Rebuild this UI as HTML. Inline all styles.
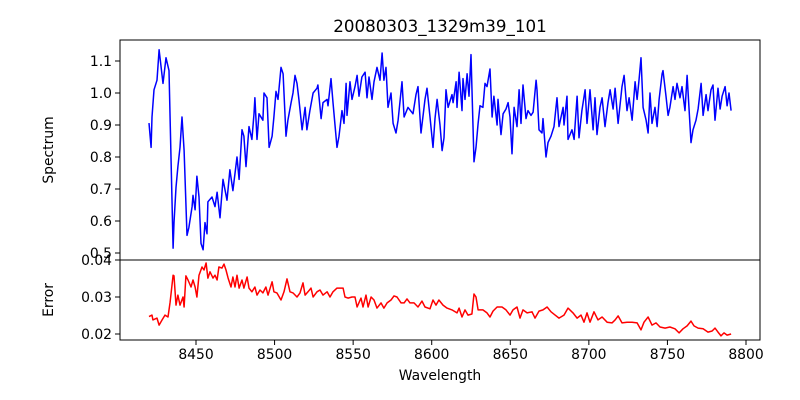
<!DOCTYPE html>
<html><head><meta charset="utf-8"><style>
body{margin:0;background:#fff;}
svg{display:block;font-family:"DejaVu Sans","Liberation Sans",sans-serif;}
</style></head><body>
<svg id="chart" width="800" height="400" viewBox="0 0 800 400" xmlns="http://www.w3.org/2000/svg">
<rect width="800" height="400" fill="#fff"/>
<text x="440" y="32" font-size="16.7" text-anchor="middle">20080303_1329m39_101</text>
<text transform="translate(53,150) rotate(-90)" font-size="13.9" text-anchor="middle">Spectrum</text>
<text transform="translate(53,300) rotate(-90)" font-size="13.9" text-anchor="middle">Error</text>
<text x="440" y="380" font-size="13.9" text-anchor="middle">Wavelength</text>
<g id="marks"></g>
<g id="axes"></g>
</svg>
<script>
const xTicks = [8450, 8500, 8550, 8600, 8650, 8700, 8750, 8800];
const specTicks = [0.5, 0.6, 0.7, 0.8, 0.9, 1.0, 1.1];
const specTickLabels = ["0.5", "0.6", "0.7", "0.8", "0.9", "1.0", "1.1"];
const errTicks = [0.02, 0.03, 0.04];
const errTickLabels = ["0.02", "0.03", "0.04"];

const specWave = [8420.1,8421.4,8422.0,8423.3,8425.2,8426.5,8429.0,8430.9,8432.8,8435.4,8436.0,8437.3,8438.5,8439.8,8441.1,8442.4,8444.3,8445.5,8447.5,8448.1,8449.4,8450.6,8451.9,8453.2,8454.5,8455.7,8457.0,8457.6,8460.2,8462.1,8463.4,8465.3,8467.2,8469.7,8471.6,8473.5,8476.1,8477.4,8479.3,8480.5,8481.8,8483.7,8485.6,8486.9,8487.5,8488.8,8490.1,8492.6,8493.3,8495.2,8496.5,8498.4,8499.6,8500.9,8502.2,8504.1,8505.4,8507.3,8508.5,8510.5,8511.7,8513.0,8514.3,8515.5,8517.5,8519.4,8520.6,8522.5,8524.5,8527.0,8527.6,8529.6,8530.8,8533.4,8534.0,8535.9,8537.2,8539.7,8541.0,8542.9,8544.2,8545.5,8546.1,8548.0,8549.3,8551.2,8552.5,8553.7,8555.6,8557.6,8558.8,8560.1,8562.0,8563.3,8565.2,8567.1,8568.4,8569.6,8570.9,8572.2,8574.1,8575.4,8577.3,8578.6,8581.1,8582.4,8584.9,8588.1,8590.0,8591.3,8593.2,8595.7,8597.0,8598.9,8600.8,8602.1,8603.4,8605.3,8606.6,8607.8,8609.1,8610.4,8612.9,8613.6,8615.5,8616.1,8617.4,8619.3,8619.9,8621.2,8622.5,8623.7,8625.0,8626.9,8628.2,8629.5,8630.7,8632.6,8633.9,8635.2,8637.1,8638.4,8639.6,8641.6,8642.2,8644.1,8645.4,8647.3,8648.6,8649.8,8651.1,8652.4,8654.3,8655.6,8656.8,8658.1,8660.0,8661.3,8663.2,8664.5,8666.4,8667.0,8668.3,8670.2,8670.8,8672.7,8674.0,8675.9,8677.8,8679.7,8681.0,8683.6,8684.2,8686.1,8686.7,8689.3,8690.6,8692.5,8693.7,8695.6,8697.6,8698.8,8700.7,8702.7,8703.9,8705.2,8707.1,8708.4,8710.3,8712.2,8713.5,8715.4,8716.7,8718.6,8721.1,8722.4,8724.3,8725.6,8727.5,8729.4,8730.7,8731.9,8733.2,8734.5,8736.4,8737.7,8738.9,8740.2,8742.1,8743.4,8744.7,8746.6,8747.2,8749.1,8750.4,8751.6,8753.6,8754.8,8756.1,8758.0,8759.3,8761.2,8762.5,8765.0,8766.3,8768.2,8769.5,8771.4,8772.7,8774.6,8775.8,8777.7,8779.0,8780.3,8782.2,8783.5,8784.8,8786.7,8788.0,8789.2,8790.5];
const specFlux = [0.906,0.83,0.925,1.01,1.04,1.135,1.03,1.11,1.07,0.515,0.595,0.705,0.77,0.83,0.925,0.82,0.555,0.58,0.645,0.68,0.635,0.74,0.675,0.53,0.51,0.595,0.56,0.66,0.675,0.645,0.69,0.61,0.73,0.665,0.76,0.695,0.80,0.73,0.885,0.865,0.77,0.895,0.855,0.935,0.985,0.855,0.935,0.915,1.00,0.985,0.83,0.865,0.925,1.005,0.98,1.08,1.06,0.865,0.915,0.97,1.00,1.055,1.03,0.98,0.885,0.955,0.885,0.945,1.00,1.015,1.025,0.92,0.97,0.98,0.96,1.045,0.97,0.83,0.865,0.945,0.905,1.03,0.93,1.035,0.98,1.02,1.055,0.99,1.05,1.065,0.985,1.05,0.98,1.035,1.08,1.04,1.125,1.04,1.08,0.955,1.00,0.905,0.875,0.915,1.035,0.925,0.955,0.935,0.995,1.02,0.875,0.98,1.015,0.925,0.83,0.92,0.98,0.90,0.82,0.86,1.01,0.955,0.995,0.97,1.035,0.955,1.065,0.945,1.045,0.98,1.06,0.99,1.12,0.785,0.83,0.905,0.96,0.955,1.03,1.02,1.075,0.925,0.99,0.90,0.98,0.87,0.935,0.95,0.97,0.925,0.81,0.955,0.895,1.01,0.905,1.025,0.92,0.945,0.93,0.94,1.04,1.01,0.885,0.875,0.92,0.80,0.845,0.865,0.895,0.985,0.895,0.955,0.90,0.99,0.855,0.885,0.855,0.99,0.86,0.945,1.01,0.905,1.01,0.885,0.985,0.87,0.955,0.985,0.895,0.97,1.01,0.95,1.015,0.905,1.02,1.055,0.945,0.985,0.915,1.035,0.98,1.04,1.11,0.955,0.915,0.875,1.00,0.905,0.955,0.895,0.98,1.06,1.07,0.99,0.93,0.955,1.02,0.98,1.03,0.985,1.02,0.945,1.055,0.845,0.885,0.915,0.95,1.03,0.93,0.995,0.945,1.01,1.025,0.915,1.015,0.95,0.99,1.02,0.96,1.00,0.945];

const errWave = [8420.1,8422.0,8422.6,8425.2,8426.5,8428.4,8430.3,8432.2,8433.5,8435.4,8436.0,8437.3,8438.5,8439.8,8441.7,8442.4,8443.6,8444.9,8446.8,8448.1,8449.4,8450.6,8451.9,8453.8,8455.1,8456.4,8457.6,8458.9,8460.8,8462.1,8463.4,8464.6,8466.5,8467.8,8469.1,8470.4,8472.3,8473.5,8474.8,8476.1,8477.4,8479.3,8480.5,8482.5,8483.7,8485.6,8487.5,8488.8,8490.7,8492.6,8494.5,8495.8,8498.4,8499.6,8501.5,8504.1,8506.0,8507.9,8509.8,8511.7,8514.3,8516.2,8518.1,8519.4,8521.3,8523.2,8524.5,8527.0,8528.9,8530.8,8533.4,8535.3,8537.2,8539.7,8541.6,8543.6,8544.8,8546.7,8549.3,8551.2,8552.5,8555.0,8556.3,8558.2,8559.5,8561.4,8563.3,8565.2,8567.7,8569.6,8571.6,8574.1,8576.0,8577.9,8580.5,8582.4,8584.3,8586.2,8588.7,8591.3,8593.8,8595.7,8598.9,8600.8,8602.7,8604.6,8607.2,8609.7,8612.9,8616.1,8617.4,8619.3,8621.2,8623.1,8625.6,8626.9,8628.2,8629.5,8632.6,8635.2,8637.1,8639.0,8641.6,8644.7,8647.3,8649.8,8651.7,8654.3,8656.2,8658.1,8660.7,8663.8,8665.7,8668.3,8670.8,8673.4,8675.9,8678.5,8681.0,8684.2,8686.7,8689.9,8692.5,8695.0,8696.9,8698.8,8700.7,8703.3,8705.8,8708.4,8711.6,8714.7,8716.7,8718.6,8721.1,8724.3,8727.5,8730.7,8733.2,8735.1,8737.7,8740.2,8742.7,8745.3,8748.5,8751.6,8754.8,8757.4,8759.9,8762.5,8765.0,8766.9,8769.5,8772.7,8775.8,8778.4,8780.3,8782.2,8784.1,8786.0,8788.0,8790.5];
const errVals = [0.0247,0.0251,0.0238,0.0243,0.0224,0.0238,0.0251,0.0246,0.0286,0.0359,0.0357,0.0278,0.0305,0.0278,0.0300,0.0273,0.0357,0.0346,0.0327,0.0346,0.0327,0.0300,0.0359,0.0381,0.0373,0.0392,0.0351,0.0368,0.0351,0.0359,0.0346,0.0381,0.0378,0.0389,0.0373,0.0351,0.0327,0.0354,0.0327,0.0359,0.0324,0.0346,0.0324,0.0354,0.0324,0.0314,0.0327,0.0305,0.0319,0.0311,0.0327,0.0305,0.0341,0.0314,0.0311,0.0292,0.0314,0.0349,0.0314,0.0311,0.0300,0.0311,0.0338,0.0305,0.0314,0.0324,0.0300,0.0314,0.0319,0.0305,0.0314,0.0300,0.0314,0.0324,0.0324,0.0324,0.0300,0.0297,0.0300,0.0300,0.0273,0.0297,0.0273,0.0305,0.0273,0.0300,0.0292,0.0270,0.0284,0.0270,0.0284,0.0292,0.0303,0.0300,0.0284,0.0284,0.0295,0.0284,0.0284,0.0273,0.0289,0.0273,0.0268,0.0292,0.0278,0.0292,0.0278,0.0270,0.0265,0.0257,0.0270,0.0246,0.0265,0.0251,0.0254,0.0308,0.0300,0.0265,0.0265,0.0257,0.0246,0.0262,0.0273,0.0273,0.0265,0.0251,0.0265,0.0273,0.0243,0.0265,0.0257,0.0260,0.0243,0.0262,0.0265,0.0273,0.0260,0.0251,0.0243,0.0251,0.0270,0.0257,0.0243,0.0251,0.0232,0.0257,0.0232,0.0260,0.0238,0.0246,0.0232,0.0230,0.0238,0.0249,0.0230,0.0232,0.0232,0.0230,0.0211,0.0232,0.0246,0.0224,0.0230,0.0219,0.0216,0.0219,0.0214,0.0203,0.0214,0.0222,0.0235,0.0222,0.0216,0.0214,0.0205,0.0208,0.0216,0.0205,0.0195,0.0203,0.0197,0.0200];

const L = 120, R = 760;
const xScale = w => 196 + (w - 8450) * (550 / 350);
const ySpec = v => 61 + (1.1 - v) * 320;
const yErr = v => 297 + (0.03 - v) * 3700;
const NS = "http://www.w3.org/2000/svg";
const marks = document.getElementById('marks');
const axes = document.getElementById('axes');
function mk(tag, parent){ const e = document.createElementNS(NS, tag); parent.appendChild(e); return e; }

const sp = mk('polyline', marks);


sp.setAttribute('points', specWave.map((w,i)=>xScale(w).toFixed(1)+','+ySpec(specFlux[i]).toFixed(1)).join(' '));
sp.setAttribute('fill','none'); sp.setAttribute('stroke','#0000ff'); sp.setAttribute('stroke-width','1.5'); sp.setAttribute('stroke-linejoin','round');

const er = mk('polyline', marks);


er.setAttribute('points', errWave.map((w,i)=>xScale(w).toFixed(1)+','+yErr(errVals[i]).toFixed(1)).join(' '));
er.setAttribute('fill','none'); er.setAttribute('stroke','#ff0000'); er.setAttribute('stroke-width','1.5'); er.setAttribute('stroke-linejoin','round');

const f1 = mk('rect', axes);


f1.setAttribute('x', L); f1.setAttribute('y', 40); f1.setAttribute('width', R-L); f1.setAttribute('height', 220);
f1.setAttribute('fill','none'); f1.setAttribute('stroke','#000'); f1.setAttribute('stroke-width','1');
const f2 = mk('rect', axes);


f2.setAttribute('x', L); f2.setAttribute('y', 260); f2.setAttribute('width', R-L); f2.setAttribute('height', 80);
f2.setAttribute('fill','none'); f2.setAttribute('stroke','#000'); f2.setAttribute('stroke-width','1');

xTicks.forEach(t => {
  const x = xScale(t);
  const ln = mk('line', axes);
  
  
  ln.setAttribute('x1', x); ln.setAttribute('x2', x); ln.setAttribute('y1', 340); ln.setAttribute('y2', 345); ln.setAttribute('stroke','#000');
  const tx = mk('text', axes);
  
  
  tx.setAttribute('x', x); tx.setAttribute('y', 359); tx.setAttribute('font-size','13.9'); tx.setAttribute('text-anchor','middle');
  tx.textContent = String(t);
});
specTicks.forEach((t,i) => {
  const y = ySpec(t);
  const ln = mk('line', axes);
  
  
  ln.setAttribute('x1', L-5); ln.setAttribute('x2', L); ln.setAttribute('y1', y); ln.setAttribute('y2', y); ln.setAttribute('stroke','#000');
  const tx = mk('text', axes);
  
  
  tx.setAttribute('x', L-8); tx.setAttribute('y', y+5); tx.setAttribute('font-size','13.9'); tx.setAttribute('text-anchor','end');
  tx.textContent = specTickLabels[i];
});
errTicks.forEach((t,i) => {
  const y = yErr(t);
  const ln = mk('line', axes);
  
  
  ln.setAttribute('x1', L-5); ln.setAttribute('x2', L); ln.setAttribute('y1', y); ln.setAttribute('y2', y); ln.setAttribute('stroke','#000');
  const tx = mk('text', axes);
  
  
  tx.setAttribute('x', L-8); tx.setAttribute('y', y+5); tx.setAttribute('font-size','13.9'); tx.setAttribute('text-anchor','end');
  tx.textContent = errTickLabels[i];
});
</script>
</body></html>
